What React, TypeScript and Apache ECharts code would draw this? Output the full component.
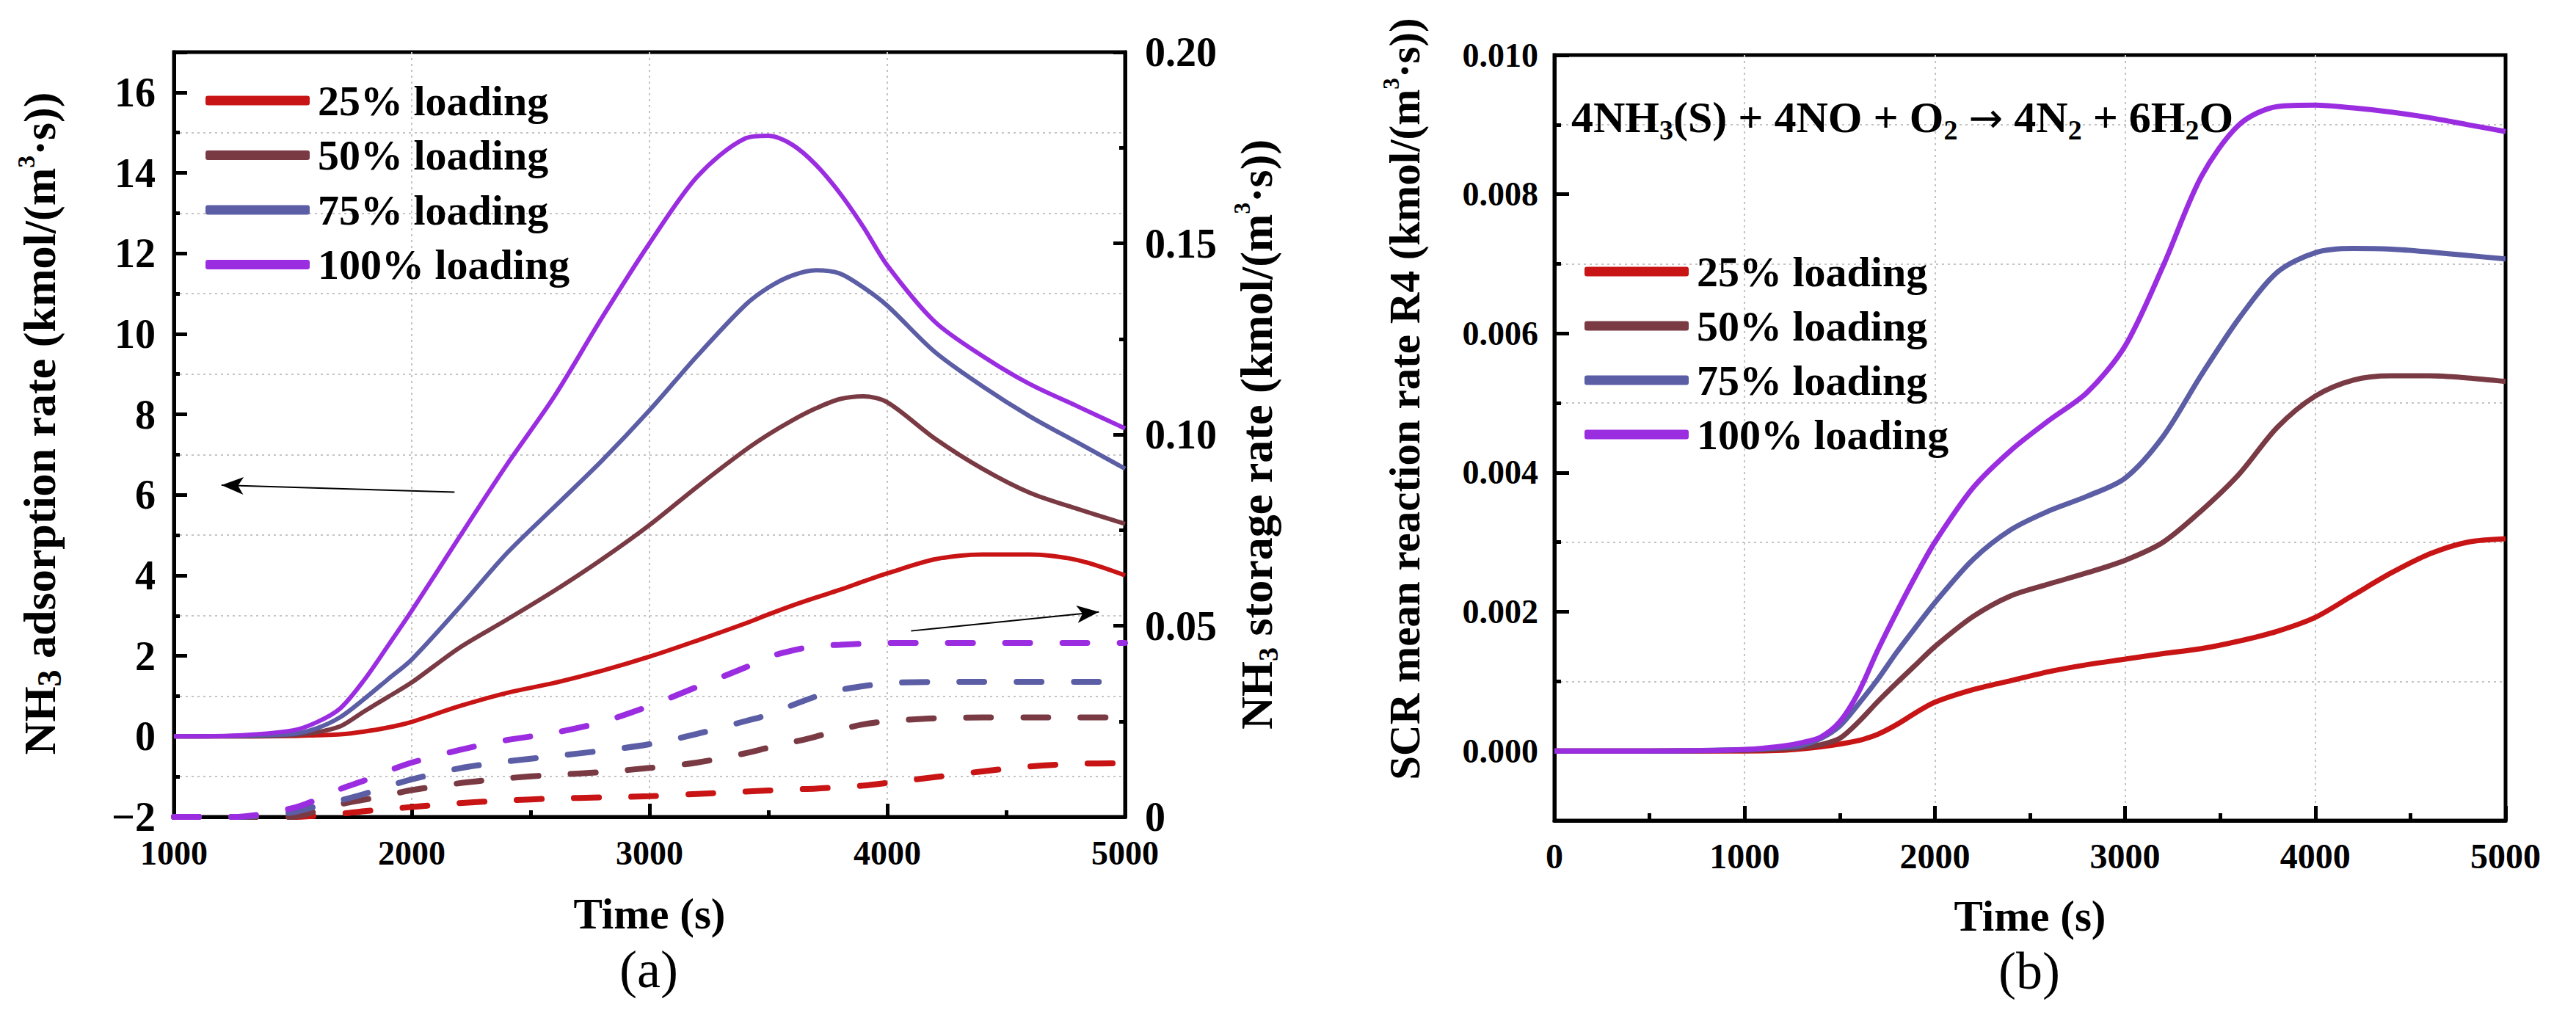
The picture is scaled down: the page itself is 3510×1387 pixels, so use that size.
import React, { useEffect, useRef } from 'react';
import * as echarts from 'echarts';

const FONT = '"Liberation Serif", "Times New Roman", Times, serif';

const loadings = ['25% loading', '50% loading', '75% loading', '100% loading'];
const colors = ['#C81414', '#7A3A44', '#5B5DA5', '#9B2DE1'];

// ---------- Panel (a) ----------
const timeA = [1000, 1250, 1500, 1600, 1700, 1800, 1900, 2000, 2200, 2400, 2600, 2800, 3000, 3200, 3400, 3500, 3600, 3700, 3800, 3900, 4000, 4200, 4400, 4600, 4800, 5000];

// NH3 adsorption rate (left axis)
const adsorb25 = [0, 0, 0.01, 0.03, 0.05, 0.12, 0.22, 0.36, 0.75, 1.08, 1.33, 1.63, 1.98, 2.38, 2.8, 3.03, 3.25, 3.45, 3.64, 3.85, 4.05, 4.4, 4.52, 4.52, 4.38, 4.0];
const adsorb50 = [0, 0, 0.03, 0.1, 0.25, 0.62, 0.98, 1.34, 2.2, 2.9, 3.62, 4.4, 5.25, 6.2, 7.1, 7.5, 7.85, 8.15, 8.38, 8.45, 8.3, 7.4, 6.65, 6.05, 5.65, 5.28];
const adsorb75 = [0, 0.01, 0.06, 0.2, 0.48, 0.93, 1.42, 1.91, 3.2, 4.55, 5.7, 6.85, 8.1, 9.45, 10.7, 11.15, 11.45, 11.58, 11.5, 11.15, 10.7, 9.55, 8.7, 7.95, 7.3, 6.65];
const adsorb100 = [0, 0.02, 0.15, 0.35, 0.7, 1.4, 2.25, 3.12, 4.95, 6.75, 8.45, 10.4, 12.25, 13.9, 14.85, 14.92, 14.7, 14.2, 13.5, 12.65, 11.7, 10.3, 9.45, 8.75, 8.2, 7.65];

// NH3 storage rate (right axis)
const storage25 = [0, 0, 0, 0.0003, 0.0008, 0.0015, 0.002, 0.0026, 0.0036, 0.0043, 0.0048, 0.0051, 0.0054, 0.006, 0.0066, 0.0069, 0.0072, 0.0074, 0.0078, 0.0082, 0.0089, 0.0104, 0.0119, 0.0132, 0.0139, 0.014];
const storage50 = [0, 0, 0, 0.0015, 0.0033, 0.0045, 0.0057, 0.007, 0.0088, 0.0101, 0.011, 0.0117, 0.0128, 0.0142, 0.0166, 0.0181, 0.0195, 0.021, 0.0228, 0.0242, 0.025, 0.0258, 0.026, 0.026, 0.026, 0.026];
const storage75 = [0, 0, 0.0012, 0.0028, 0.0043, 0.006, 0.008, 0.0098, 0.0127, 0.0145, 0.0159, 0.0173, 0.019, 0.0217, 0.025, 0.0267, 0.0292, 0.0315, 0.0332, 0.0342, 0.035, 0.0353, 0.0353, 0.0353, 0.0353, 0.0353];
const storage100 = [0, 0, 0.0023, 0.0045, 0.0073, 0.0095, 0.012, 0.0142, 0.0175, 0.0201, 0.022, 0.0248, 0.029, 0.034, 0.039, 0.0418, 0.0435, 0.0447, 0.045, 0.0453, 0.0455, 0.0455, 0.0455, 0.0455, 0.0455, 0.0455];

// annotation arrows (left-axis units)
const arrowToAdsorption = [[2180, 6.07], [1200, 6.24]];
const arrowToStorage = [[4100, 2.62], [4890, 3.09]];

// ---------- Panel (b) ----------
const timeB = [0, 500, 1000, 1200, 1300, 1400, 1500, 1600, 1700, 1800, 1900, 2000, 2200, 2400, 2600, 2800, 3000, 3200, 3400, 3600, 3800, 4000, 4200, 4400, 4600, 4800, 5000];
const r4_25 = [0, 0, 0, 0.00001, 0.00003, 0.00006, 0.0001, 0.00015, 0.00024, 0.00038, 0.00055, 0.0007, 0.00088, 0.00101, 0.00114, 0.00124, 0.00132, 0.0014, 0.00147, 0.00158, 0.00172, 0.00192, 0.00224, 0.00256, 0.00283, 0.003, 0.00305];
const r4_50 = [0, 0, 0.00001, 0.00003, 0.00005, 0.00009, 0.00018, 0.00042, 0.00071, 0.00098, 0.00124, 0.0015, 0.00193, 0.00223, 0.0024, 0.00256, 0.00274, 0.003, 0.00345, 0.00398, 0.00465, 0.0051, 0.00533, 0.00539, 0.00539, 0.00536, 0.00531];
const r4_75 = [0, 0, 0.00002, 0.00005, 0.00008, 0.00018, 0.00036, 0.00068, 0.00103, 0.00142, 0.00178, 0.00213, 0.00275, 0.00318, 0.00345, 0.00366, 0.00392, 0.00452, 0.0054, 0.00622, 0.00688, 0.00716, 0.00722, 0.00721, 0.00717, 0.00712, 0.00707];
const r4_100 = [0, 0, 0.00002, 0.00007, 0.00012, 0.0002, 0.00042, 0.00085, 0.00145, 0.002, 0.00252, 0.003, 0.00378, 0.00432, 0.00475, 0.00515, 0.00582, 0.00697, 0.00825, 0.009, 0.00926, 0.00928, 0.00924, 0.00918, 0.0091, 0.009, 0.0089];

const zip = (t: number[], v: number[]) => t.map((x, i) => [x, v[i]]);

function buildOption(): any {
  const tickLine = { color: '#000', width: 5 };
  const axisLine = { show: true, onZero: false, lineStyle: { color: '#000', width: 5 } };
  const gridLine = { color: '#c4c4c4', width: 2, type: [3, 5] };
  const bold = { fontFamily: FONT, fontWeight: 'bold', color: '#000' };

  const adsorb = [adsorb25, adsorb50, adsorb75, adsorb100];
  const storage = [storage25, storage50, storage75, storage100];
  const r4 = [r4_25, r4_50, r4_75, r4_100];

  const legendBase = {
    data: loadings,
    orient: 'vertical',
    itemWidth: 142,
    itemHeight: 13,
    icon: 'roundRect',
    padding: 0,
    selectedMode: false,
    itemStyle: { borderWidth: 0 },
    textStyle: { ...bold, fontSize: 58, lineHeight: 60, padding: [0, 0, 0, 6] },
  };

  const series: any[] = [];
  adsorb.forEach((v, i) => {
    const s: any = {
      name: loadings[i], type: 'line', xAxisIndex: 0, yAxisIndex: 0,
      data: zip(timeA, v), symbol: 'none', showSymbol: false, smooth: 0.3, z: 4,
      lineStyle: { color: colors[i], width: 6 }, itemStyle: { color: colors[i] },
    };
    if (i === 0) {
      s.markLine = {
        silent: true, symbol: ['none', 'arrow'], symbolSize: [18, 30],
        label: { show: false },
        lineStyle: { color: '#000', width: 2, type: 'solid' },
        data: [
          [{ coord: arrowToAdsorption[0] }, { coord: arrowToAdsorption[1] }],
          [{ coord: arrowToStorage[0] }, { coord: arrowToStorage[1] }],
        ],
      };
    }
    series.push(s);
  });
  storage.forEach((v, i) => {
    series.push({
      name: loadings[i] + ' (storage)', type: 'line', xAxisIndex: 0, yAxisIndex: 1,
      data: zip(timeA, v), symbol: 'none', showSymbol: false, smooth: 0.3, z: 3,
      lineStyle: { color: colors[i], width: 8, type: [34, 44], cap: 'round' }, itemStyle: { color: colors[i] },
    });
  });
  r4.forEach((v, i) => {
    series.push({
      name: loadings[i], type: 'line', xAxisIndex: 1, yAxisIndex: 3,
      data: zip(timeB, v), symbol: 'none', showSymbol: false, smooth: 0.3, z: 4,
      lineStyle: { color: colors[i], width: 7 }, itemStyle: { color: colors[i] },
    });
  });

  const xName = { ...bold, fontSize: 59, lineHeight: 44 };
  const plain = (v: number) => String(v);

  return {
    animation: false,
    backgroundColor: '#fff',
    grid: [
      { left: 237, top: 71, width: 1296, height: 1042, show: true, borderColor: '#000', borderWidth: 5 },
      { left: 2118, top: 75, width: 1296, height: 1043, show: true, borderColor: '#000', borderWidth: 5 },
    ],
    legend: [
      { ...legendBase, left: 280, top: 107, itemGap: 14.5 },
      { ...legendBase, left: 2159, top: 340, itemGap: 14 },
    ],
    xAxis: [
      {
        gridIndex: 0, type: 'value', min: 1000, max: 5000, interval: 1000,
        axisLine, axisTick: { show: true, inside: true, length: 18, lineStyle: tickLine },
        minorTick: { show: true, splitNumber: 2, length: 9, lineStyle: tickLine },
        axisLabel: { ...bold, fontSize: 46, margin: 26, formatter: plain },
        splitLine: { show: true, showMinLine: false, showMaxLine: false, lineStyle: gridLine },
        name: 'Time (s)', nameLocation: 'middle', nameGap: 110, nameTextStyle: xName,
      },
      {
        gridIndex: 1, type: 'value', min: 0, max: 5000, interval: 1000,
        axisLine, axisTick: { show: true, inside: true, length: 20, lineStyle: tickLine },
        minorTick: { show: true, splitNumber: 2, length: 10, lineStyle: tickLine },
        axisLabel: { ...bold, fontSize: 48, margin: 24, formatter: plain },
        splitLine: { show: true, showMinLine: false, showMaxLine: false, lineStyle: gridLine },
        name: 'Time (s)', nameLocation: 'middle', nameGap: 108, nameTextStyle: xName,
      },
    ],
    yAxis: [
      {
        // 0: panel (a) adsorption rate
        gridIndex: 0, type: 'value', position: 'left', min: -2, max: 17, interval: 1,
        axisLine, axisTick: { show: true, inside: true, length: 8, lineStyle: tickLine },
        axisLabel: {
          ...bold, fontSize: 56, margin: 25,
          formatter: (v: number) => (v % 2 === 0 && v < 17 ? (v < 0 ? '\u2212' + -v : String(v)) : ''),
        },
        splitLine: { show: true, showMinLine: false, showMaxLine: false, lineStyle: { ...gridLine, color: ['#c4c4c4', 'rgba(0,0,0,0)'] } },
        name: '{t|NH}{sub|3}{t| adsorption rate (kmol/(m}{sup|3}{t|\u00b7s))}',
        nameLocation: 'middle', nameRotate: 90, nameGap: 147,
        nameTextStyle: {
          ...bold, fontSize: 62, padding: [0, 0, 0, 30],
          rich: {
            t: { ...bold, fontSize: 62, lineHeight: 72 },
            sub: { ...bold, fontSize: 46, lineHeight: 20, verticalAlign: 'bottom' },
            sup: { ...bold, fontSize: 34, lineHeight: 20, verticalAlign: 'top' },
          },
        },
      },
      {
        // 1: panel (a) storage rate
        gridIndex: 0, type: 'value', position: 'right', min: 0, max: 0.2, interval: 0.05,
        axisLine, axisTick: { show: true, inside: true, length: 16, lineStyle: tickLine },
        minorTick: { show: true, splitNumber: 2, length: 8, lineStyle: tickLine },
        axisLabel: { ...bold, fontSize: 56, margin: 27, formatter: (v: number) => (v === 0 ? '0' : v.toFixed(2)) },
        splitLine: { show: false },
        name: '{t|NH}{sub|3}{t| storage rate (kmol/(m}{sup|3}{t|\u00b7s))}',
        nameLocation: 'middle', nameRotate: 90, nameGap: 144,
        nameTextStyle: {
          ...bold, fontSize: 62,
          rich: {
            t: { ...bold, fontSize: 62, lineHeight: 70 },
            sub: { ...bold, fontSize: 38, lineHeight: 26, verticalAlign: 'bottom' },
            sup: { ...bold, fontSize: 31, lineHeight: 20, verticalAlign: 'top' },
          },
        },
      },
      {
        // 2: panel (a) major ticks overlay
        gridIndex: 0, type: 'value', position: 'left', min: -2, max: 17, interval: 2,
        axisLine: { show: false }, axisLabel: { show: false }, splitLine: { show: false },
        axisTick: { show: true, inside: true, length: 18, lineStyle: tickLine },
      },
      {
        // 3: panel (b) reaction rate
        gridIndex: 1, type: 'value', position: 'left', min: -0.001, max: 0.01, interval: 0.001,
        axisLine, axisTick: { show: true, inside: true, length: 9, lineStyle: tickLine },
        axisLabel: {
          ...bold, fontSize: 46, margin: 22,
          formatter: (v: number) => {
            const k = Math.round(v * 1000);
            return k >= 0 && k % 2 === 0 ? (k / 1000).toFixed(3) : '';
          },
        },
        splitLine: { show: true, showMinLine: false, showMaxLine: false, lineStyle: { ...gridLine, color: ['rgba(0,0,0,0)', '#c4c4c4'] } },
        name: '{t|SCR mean reaction rate R4 (kmol/(m}{sup|3}{t|\u00b7s))}',
        nameLocation: 'middle', nameRotate: 90, nameGap: 170,
        nameTextStyle: {
          ...bold, fontSize: 59, padding: [0, 0, 0, 106],
          rich: {
            t: { ...bold, fontSize: 59, lineHeight: 68 },
            sup: { ...bold, fontSize: 31, lineHeight: 20, verticalAlign: 'top' },
          },
        },
      },
      {
        // 4: panel (b) major ticks overlay (inverse so ticks start at the top value)
        gridIndex: 1, type: 'value', position: 'left', inverse: true, min: 0, max: 0.011, interval: 0.002,
        axisLine: { show: false }, axisLabel: { show: false }, splitLine: { show: false },
        axisTick: { show: true, inside: true, length: 20, lineStyle: tickLine },
      },
    ],
    graphic: [
      {
        type: 'text', x: 884, y: 1321,
        style: { text: '(a)', fontFamily: FONT, fontSize: 72, lineHeight: 64, fill: '#000', align: 'center', verticalAlign: 'middle', textAlign: 'center', textVerticalAlign: 'middle' },
      },
      {
        type: 'text', x: 2765, y: 1323,
        style: { text: '(b)', fontFamily: FONT, fontSize: 72, lineHeight: 64, fill: '#000', align: 'center', verticalAlign: 'middle', textAlign: 'center', textVerticalAlign: 'middle' },
      },
      {
        type: 'text', x: 2141, y: 160, z: 10,
        style: {
          text: '{t|4NH}{s|3}{t|(S) + 4NO + O}{s|2}{t| }{a|\u2192}{t| 4N}{s|2}{t| + 6H}{s|2}{t|O}',
          fontFamily: FONT, fontWeight: 'bold', fontSize: 60, fill: '#000',
          align: 'left', verticalAlign: 'middle', textAlign: 'left', textVerticalAlign: 'middle',
          rich: {
            t: { fontFamily: FONT, fontWeight: 'bold', fontSize: 60, lineHeight: 72, fill: '#000' },
            s: { fontFamily: FONT, fontWeight: 'bold', fontSize: 38, lineHeight: 24, verticalAlign: 'bottom', fill: '#000' },
            a: { fontFamily: '"DejaVu Sans", sans-serif', fontSize: 56, lineHeight: 72, fill: '#000' },
          },
        },
      },
    ],
    series,
  };
}

export default function App() {
  const ref = useRef<HTMLDivElement>(null);
  useEffect(() => {
    if (!ref.current) return;
    const chart = echarts.init(ref.current, undefined, { renderer: 'svg' });
    chart.setOption(buildOption());
    return () => chart.dispose();
  }, []);
  return (
    <div
      ref={ref}
      style={{ position: 'fixed', left: 0, top: 0, width: 3510, height: 1387, background: '#fff' }}
    />
  );
}
